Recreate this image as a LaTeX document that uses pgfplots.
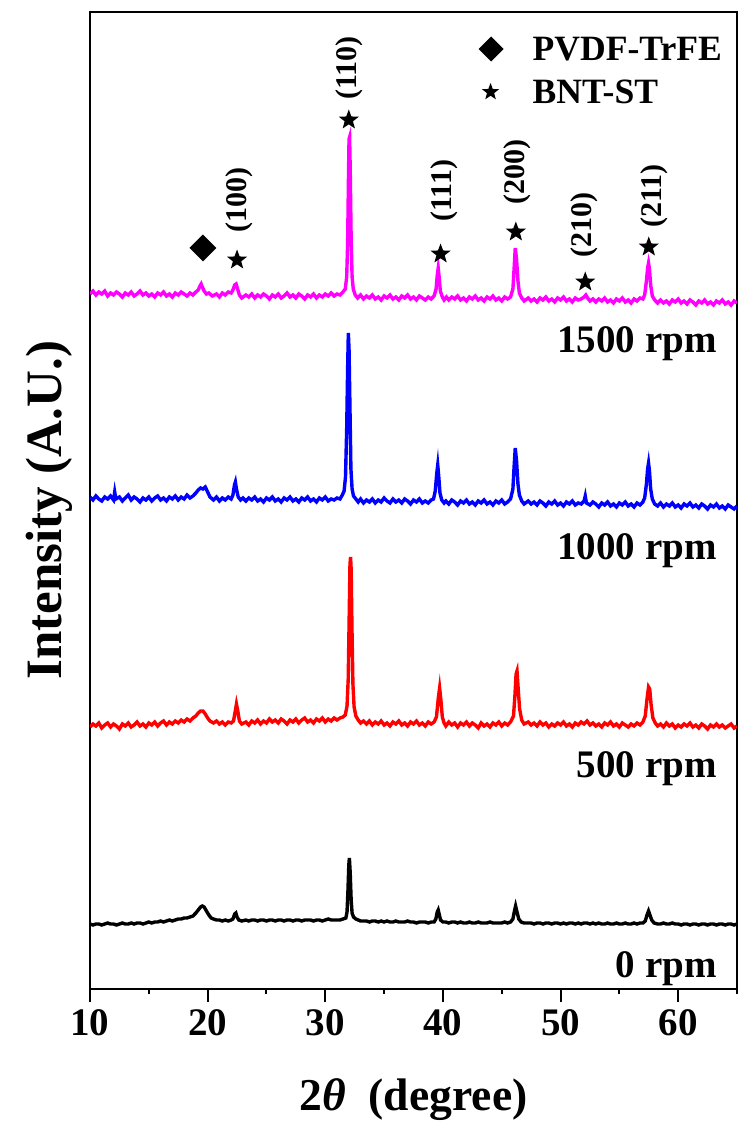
\documentclass[border=0pt]{standalone}
\usepackage{pgfplots}
\pgfplotsset{compat=1.18}
\usepackage{fontspec}
\setmainfont{Liberation Serif}
\usetikzlibrary{shapes.geometric,calc}

\definecolor{xmag}{RGB}{255,0,255}
\definecolor{xblue}{RGB}{0,0,255}
\definecolor{xred}{RGB}{255,0,0}

% filled five-point star for the peak markers
\pgfdeclareplotmark{fstar}{\node[star,star points=5,star point ratio=2.4,fill=black,draw=none,inner sep=0pt,minimum size=10.5pt]{};}
\pgfdeclareplotmark{fstarsmall}{\node[star,star points=5,star point ratio=2.4,fill=black,draw=none,inner sep=0pt,minimum size=9pt]{};}

\begin{document}
\begin{tikzpicture}
\begin{axis}[
    scale only axis,
    width=323.5pt, height=488.5pt,
    xmin=10, xmax=65, ymin=0, ymax=977,
    xtick={10,20,...,60},
    minor xtick={15,25,...,65},
    ytick=\empty,
    xtick pos=left,
    tick align=outside,
    major tick length=6.5pt, minor tick length=2.5pt,
    every tick/.style={black, line width=1pt},
    axis line style={line width=1pt},
    /pgf/number format/assume math mode=true,
    xticklabel style={font=\bfseries\fontsize{19.5}{22}\selectfont},
    xlabel={2\textit{θ}\ \ (degree)},
    xlabel style={font=\bfseries\fontsize{22.8}{26}\selectfont, at={(rel axis cs:0.5,0)}, anchor=base, yshift=-60.5pt},
    ylabel={Intensity (A.U.)},
    ylabel style={font=\bfseries\fontsize{25.5}{30}\selectfont, at={(rel axis cs:0,0.49)}, anchor=south, yshift=5pt},
    every axis plot/.append style={line width=1.7pt},
]
\coordinate (bl) at (rel axis cs:0,0);
\coordinate (tr) at (rel axis cs:1,1);

% 0 rpm
\addplot[black, no marks] coordinates {
(10,65) (10.25,64) (10.5,65) (10.75,65) (11,64) (11.25,65) (11.5,66) (11.75,65) (12,65) (12.25,64) (12.5,65) (12.75,66)
(13,65) (13.25,65) (13.5,66) (13.75,65) (14,66) (14.25,66) (14.5,65) (14.75,66) (15,67) (15.25,66) (15.5,67) (15.75,67)
(16,68) (16.25,67) (16.5,68) (16.75,69) (17,68) (17.25,69) (17.5,70) (17.75,70) (18,71) (18.25,71) (18.5,72) (18.75,73)
(19,76) (19.2,79) (19.4,82) (19.55,83) (19.7,82) (19.9,78) (20.1,74) (20.3,71) (20.5,70) (20.75,69) (21,69) (21.25,68)
(21.5,69) (21.75,68) (22,69) (22.15,70) (22.3,75) (22.4,76) (22.5,72) (22.65,69) (22.9,68) (23.25,69) (23.5,68) (23.75,69)
(24,69) (24.25,68) (24.5,69) (24.75,69) (25,68) (25.25,69) (25.5,69) (25.75,68) (26,69) (26.25,69) (26.5,68) (26.75,69)
(27,69) (27.25,68) (27.5,69) (27.75,69) (28,68) (28.25,69) (28.5,69) (28.75,69) (29,68) (29.25,69) (29.5,69) (29.75,68)
(30,69) (30.25,70) (30.5,69) (30.75,69) (31,69) (31.25,69) (31.5,70) (31.75,71) (31.85,77) (31.93,99) (32,124) (32.05,131)
(32.12,116) (32.2,89) (32.28,76) (32.4,72) (32.6,70) (32.8,69) (33,68) (33.25,68) (33.5,68) (33.75,67) (34,68) (34.25,68)
(34.5,67) (34.75,68) (35,67) (35.25,68) (35.5,67) (35.75,67) (36,68) (36.25,67) (36.5,67) (36.75,67) (37,68) (37.25,67)
(37.5,67) (37.75,66) (38,67) (38.25,67) (38.5,67) (38.75,66) (39,67) (39.25,67) (39.4,70) (39.52,77) (39.6,79) (39.7,74)
(39.8,69) (40,67) (40.25,67) (40.5,66) (40.75,67) (41,67) (41.25,66) (41.5,67) (41.75,66) (42,66) (42.25,67) (42.5,66)
(42.75,66) (43,67) (43.25,66) (43.5,66) (43.75,66) (44,67) (44.25,66) (44.5,66) (44.75,66) (45,66) (45.25,67) (45.5,66)
(45.75,67) (45.95,70) (46.08,78) (46.18,83) (46.3,77) (46.45,70) (46.65,67) (46.9,66) (47.25,66) (47.5,66) (47.75,65) (48,66)
(48.25,66) (48.5,65) (48.75,66) (49,66) (49.25,65) (49.5,66) (49.75,66) (50,65) (50.25,66) (50.5,65) (50.75,66) (51,66)
(51.25,65) (51.5,66) (51.75,65) (52,66) (52.25,66) (52.5,65) (52.75,66) (53,65) (53.25,66) (53.5,65) (53.75,65) (54,66)
(54.25,65) (54.5,65) (54.75,66) (55,65) (55.25,65) (55.5,66) (55.75,65) (56,65) (56.25,66) (56.5,65) (56.75,66) (57,66)
(57.2,68) (57.35,74) (57.48,78) (57.6,74) (57.75,69) (57.95,66) (58.25,65) (58.5,65) (58.75,66) (59,65) (59.25,65) (59.5,66)
(59.75,65) (60,65) (60.25,64) (60.5,65) (60.75,65) (61,64) (61.25,65) (61.5,65) (61.75,64) (62,65) (62.25,65) (62.5,64)
(62.75,65) (63,65) (63.25,64) (63.5,65) (63.75,65) (64,64) (64.25,65) (64.5,65) (64.75,64) (65,65)
};

% 500 rpm
\addplot[xred, no marks] coordinates {
(10,262) (10.25,265) (10.5,263) (10.75,266) (11,261) (11.25,264) (11.5,266) (11.75,262) (12,265) (12.25,263) (12.5,260) (12.75,265)
(13,263) (13.25,266) (13.5,262) (13.75,264) (14,267) (14.25,263) (14.5,265) (14.75,262) (15,266) (15.25,264) (15.5,267) (15.75,263)
(16,266) (16.25,268) (16.5,264) (16.75,267) (17,265) (17.25,268) (17.5,266) (17.75,269) (18,267) (18.25,270) (18.5,268) (18.75,271)
(19,273) (19.2,276) (19.4,278) (19.6,278) (19.8,275) (20,271) (20.2,268) (20.5,266) (20.75,268) (21,265) (21.25,267) (21.5,264)
(21.75,267) (22,266) (22.2,268) (22.35,278) (22.45,285) (22.55,279) (22.7,268) (22.9,265) (23.25,267) (23.5,264) (23.75,268) (24,266)
(24.25,269) (24.5,265) (24.75,268) (25,266) (25.25,270) (25.5,267) (25.75,269) (26,266) (26.25,270) (26.5,268) (26.75,265) (27,269)
(27.25,267) (27.5,270) (27.75,266) (28,269) (28.25,271) (28.5,267) (28.75,269) (29,266) (29.25,270) (29.5,268) (29.75,271) (30,267)
(30.25,270) (30.5,268) (30.75,271) (31,269) (31.25,271) (31.5,272) (31.7,274) (31.85,283) (31.95,310) (32.03,370) (32.1,425) (32.15,432)
(32.2,420) (32.27,360) (32.35,305) (32.45,282) (32.6,273) (32.8,269) (33,266) (33.25,268) (33.5,265) (33.75,268) (34,264) (34.25,267)
(34.5,265) (34.75,268) (35,264) (35.25,266) (35.5,263) (35.75,267) (36,265) (36.25,268) (36.5,264) (36.75,266) (37,263) (37.25,267)
(37.5,265) (37.75,268) (38,264) (38.25,266) (38.5,263) (38.75,267) (39,265) (39.25,267) (39.45,272) (39.6,290) (39.72,301) (39.82,290)
(39.95,272) (40.1,266) (40.25,263) (40.5,267) (40.75,264) (41,266) (41.25,262) (41.5,266) (41.75,264) (42,267) (42.25,263) (42.5,266)
(42.75,264) (43,261) (43.25,266) (43.5,263) (43.75,265) (44,262) (44.25,266) (44.5,264) (44.75,267) (45,263) (45.25,266) (45.5,264)
(45.75,267) (46,273) (46.12,293) (46.22,315) (46.3,318) (46.4,300) (46.52,280) (46.7,269) (46.9,265) (47.25,267) (47.5,264) (47.75,266)
(48,263) (48.25,267) (48.5,264) (48.75,266) (49,262) (49.25,265) (49.5,263) (49.75,266) (50,264) (50.25,267) (50.5,263) (50.75,265)
(51,262) (51.25,266) (51.5,264) (51.75,267) (52,265) (52.25,268) (52.5,264) (52.75,266) (53,263) (53.25,265) (53.5,262) (53.75,266)
(54,264) (54.25,267) (54.5,263) (54.75,265) (55,262) (55.25,266) (55.5,264) (55.75,262) (56,265) (56.25,263) (56.5,266) (56.75,264)
(57,267) (57.2,273) (57.35,290) (57.48,302) (57.58,300) (57.7,284) (57.85,271) (58.05,266) (58.25,263) (58.5,265) (58.75,262) (59,266)
(59.25,263) (59.5,265) (59.75,261) (60,264) (60.25,262) (60.5,265) (60.75,263) (61,266) (61.25,262) (61.5,264) (61.75,261) (62,265)
(62.25,263) (62.5,260) (62.75,264) (63,262) (63.25,265) (63.5,262) (63.75,264) (64,261) (64.25,263) (64.5,265) (64.75,261) (65,263)
};

% 1000 rpm
\addplot[xblue, no marks] coordinates {
(10,492) (10.25,489) (10.5,493) (10.75,490) (11,488) (11.25,492) (11.5,490) (11.75,493) (12,489) (12.1,497) (12.2,490) (12.5,492)
(12.75,488) (13,491) (13.25,494) (13.5,489) (13.75,492) (14,490) (14.25,487) (14.5,491) (14.75,489) (15,492) (15.25,488) (15.5,491)
(15.75,493) (16,489) (16.25,491) (16.5,488) (16.75,492) (17,490) (17.25,493) (17.5,489) (17.75,492) (18,490) (18.25,494) (18.5,491)
(18.75,493) (19,496) (19.2,499) (19.4,501) (19.6,500) (19.8,502) (20,497) (20.2,492) (20.5,489) (20.75,492) (21,488) (21.25,491)
(21.5,489) (21.75,492) (22,490) (22.15,494) (22.28,504) (22.36,507) (22.45,500) (22.6,492) (22.8,489) (23,491) (23.25,488) (23.5,491)
(23.75,489) (24,492) (24.25,488) (24.5,490) (24.75,487) (25,491) (25.25,489) (25.5,492) (25.75,488) (26,490) (26.25,487) (26.5,491)
(26.75,489) (27,492) (27.25,488) (27.5,490) (27.75,487) (28,491) (28.25,489) (28.5,492) (28.75,488) (29,490) (29.25,487) (29.5,491)
(29.75,489) (30,492) (30.25,488) (30.5,490) (30.75,489) (31,491) (31.25,490) (31.45,494) (31.6,498) (31.72,512) (31.82,560) (31.9,620)
(31.96,656) (32.02,640) (32.1,580) (32.18,520) (32.28,500) (32.4,493) (32.6,490) (32.8,487) (33,490) (33.25,486) (33.5,489) (33.75,487)
(34,490) (34.25,486) (34.5,489) (34.75,487) (35,491) (35.25,488) (35.5,486) (35.75,490) (36,487) (36.25,489) (36.5,486) (36.75,490)
(37,488) (37.25,485) (37.5,489) (37.75,487) (38,490) (38.25,486) (38.5,488) (38.75,486) (39,489) (39.2,490) (39.35,498) (39.48,516)
(39.56,524) (39.65,512) (39.75,496) (39.9,489) (40.1,486) (40.25,488) (40.5,485) (40.75,489) (41,487) (41.25,484) (41.5,488) (41.75,486)
(42,489) (42.25,485) (42.5,487) (42.75,484) (43,488) (43.25,486) (43.5,489) (43.75,485) (44,487) (44.25,484) (44.5,488) (44.75,486)
(45,489) (45.25,485) (45.5,487) (45.75,490) (45.95,500) (46.05,522) (46.15,541) (46.26,528) (46.38,505) (46.5,494) (46.7,488)
(46.9,485) (47.25,488) (47.5,485) (47.75,487) (48,484) (48.25,488) (48.5,486) (48.75,483) (49,487) (49.25,485) (49.5,488) (49.75,484)
(50,486) (50.25,483) (50.5,487) (50.75,485) (51,488) (51.25,484) (51.5,486) (51.75,485) (52,488) (52.1,493) (52.2,486) (52.5,484)
(52.75,487) (53,485) (53.25,482) (53.5,486) (53.75,484) (54,487) (54.25,483) (54.5,485) (54.75,482) (55,486) (55.25,484) (55.5,487)
(55.75,483) (56,485) (56.25,482) (56.5,486) (56.75,484) (57,487) (57.15,491) (57.3,505) (57.4,520) (57.48,526) (57.56,518) (57.66,500)
(57.8,490) (58,485) (58.25,483) (58.5,486) (58.75,482) (59,485) (59.25,483) (59.5,486) (59.75,482) (60,484) (60.25,481) (60.5,485)
(60.75,483) (61,486) (61.25,482) (61.5,484) (61.75,481) (62,485) (62.25,483) (62.5,480) (62.75,484) (63,482) (63.25,485) (63.5,481)
(63.75,483) (64,480) (64.25,484) (64.5,482) (64.75,480) (65,483)
};

% 1500 rpm
\addplot[xmag, no marks] coordinates {
(10,695) (10.25,698) (10.5,694) (10.75,697) (11,695) (11.25,698) (11.5,693) (11.75,696) (12,694) (12.25,697) (12.5,695) (12.75,692)
(13,696) (13.25,694) (13.5,697) (13.75,693) (14,695) (14.25,698) (14.5,694) (14.75,696) (15,693) (15.25,695) (15.5,692) (15.75,696)
(16,694) (16.25,697) (16.5,693) (16.75,695) (17,692) (17.25,696) (17.5,694) (17.75,697) (18,695) (18.25,693) (18.5,696) (18.75,694)
(19,697) (19.2,699) (19.35,703) (19.45,705) (19.55,702) (19.7,698) (19.9,695) (20.1,696) (20.4,693) (20.75,695) (21,692) (21.25,696)
(21.5,694) (21.75,697) (22,696) (22.15,699) (22.3,704) (22.42,705) (22.55,700) (22.7,694) (22.9,691) (23.25,694) (23.5,692) (23.75,695)
(24,691) (24.25,694) (24.5,692) (24.75,695) (25,693) (25.25,690) (25.5,694) (25.75,692) (26,695) (26.25,691) (26.5,693) (26.75,696)
(27,692) (27.25,694) (27.5,691) (27.75,695) (28,693) (28.25,690) (28.5,694) (28.75,692) (29,695) (29.25,691) (29.5,694) (29.75,692)
(30,695) (30.25,693) (30.5,696) (30.75,693) (31,695) (31.25,694) (31.5,697) (31.7,700) (31.82,712) (31.9,745) (31.97,810) (32.02,850)
(32.07,852) (32.12,820) (32.2,750) (32.28,712) (32.38,700) (32.55,694) (32.75,691) (33,694) (33.25,690) (33.5,693) (33.75,691) (34,694)
(34.25,690) (34.5,692) (34.75,689) (35,693) (35.25,691) (35.5,694) (35.75,690) (36,692) (36.25,689) (36.5,693) (36.75,691) (37,694)
(37.25,690) (37.5,692) (37.75,689) (38,693) (38.25,691) (38.5,689) (38.75,692) (39,690) (39.25,693) (39.42,700) (39.52,714) (39.6,721)
(39.68,712) (39.78,698) (39.95,692) (40.1,689) (40.3,692) (40.5,689) (40.75,692) (41,690) (41.25,693) (41.5,689) (41.75,691) (42,688)
(42.25,692) (42.5,690) (42.75,693) (43,689) (43.25,691) (43.5,688) (43.75,692) (44,690) (44.25,693) (44.5,689) (44.75,691) (45,688)
(45.25,692) (45.5,690) (45.75,692) (45.95,700) (46.05,720) (46.15,741) (46.26,730) (46.38,708) (46.5,696) (46.7,691) (46.9,688)
(47.25,691) (47.5,688) (47.75,690) (48,687) (48.25,691) (48.5,689) (48.75,692) (49,688) (49.25,690) (49.5,687) (49.75,691) (50,689)
(50.25,692) (50.5,688) (50.75,690) (51,687) (51.25,691) (51.5,689) (51.75,690) (52,692) (52.15,694) (52.3,691) (52.5,688) (52.75,690)
(53,687) (53.25,690) (53.5,688) (53.75,691) (54,687) (54.25,689) (54.5,686) (54.75,690) (55,688) (55.25,691) (55.5,687) (55.75,689)
(56,686) (56.25,690) (56.5,688) (56.75,691) (57,690) (57.15,694) (57.3,708) (57.4,721) (57.48,726) (57.56,720) (57.66,704) (57.8,693)
(58,689) (58.25,686) (58.5,689) (58.75,686) (59,688) (59.25,685) (59.5,689) (59.75,687) (60,690) (60.25,686) (60.5,688) (60.75,685)
(61,689) (61.25,687) (61.5,684) (61.75,688) (62,686) (62.25,689) (62.5,685) (62.75,687) (63,684) (63.25,688) (63.5,686) (63.75,689)
(64,685) (64.25,687) (64.5,684) (64.75,688) (65,686)
};

% phase markers
\addplot[only marks, mark=square*, mark size=3.9pt, mark options={rotate=45, fill=black, draw=none}]
  coordinates {(19.6,741)};
\addplot[only marks, mark=square*, mark size=3.6pt, mark options={rotate=45, fill=black, draw=none}]
  coordinates {(44.1,940)};
\addplot[only marks, mark=fstar] coordinates {
(22.5,729) (32.0,869) (39.8,735) (46.2,757) (52.1,707) (57.5,742)
};
\addplot[only marks, mark=fstarsmall] coordinates {(44.05,897)};

% legend text
\node[anchor=west, inner sep=0pt, font=\bfseries\fontsize{17.8}{21}\selectfont] at (axis cs:47.6,940) {PVDF-TrFE};
\node[anchor=west, inner sep=0pt, font=\bfseries\fontsize{17.8}{21}\selectfont] at (axis cs:47.6,897) {BNT-ST};

% Miller indices
\begin{scope}[every node/.style={rotate=90, anchor=west, inner sep=0pt, font=\bfseries\fontsize{15}{18}\selectfont}]
\node at (axis cs:22.7,756) {(100)};
\node at (axis cs:32.0,889) {(110)};
\node at (axis cs:40.1,767) {(111)};
\node at (axis cs:46.3,784) {(200)};
\node at (axis cs:52.0,731) {(210)};
\node at (axis cs:58.0,761) {(211)};
\end{scope}

% sample labels
\begin{scope}[every node/.style={anchor=base east, inner sep=0pt, font=\bfseries\fontsize{19.5}{23}\selectfont}]
\node at (axis cs:63.3,636) {1500 rpm};
\node at (axis cs:63.3,429) {1000 rpm};
\node at (axis cs:63.3,212) {500 rpm};
\node at (axis cs:63.3,12) {0 rpm};
\end{scope}
\end{axis}
\pgfresetboundingbox
\path ($(bl)+(-45pt,-75.5pt)$) rectangle ($(tr)+(8.5pt,6pt)$);
\end{tikzpicture}
\end{document}
